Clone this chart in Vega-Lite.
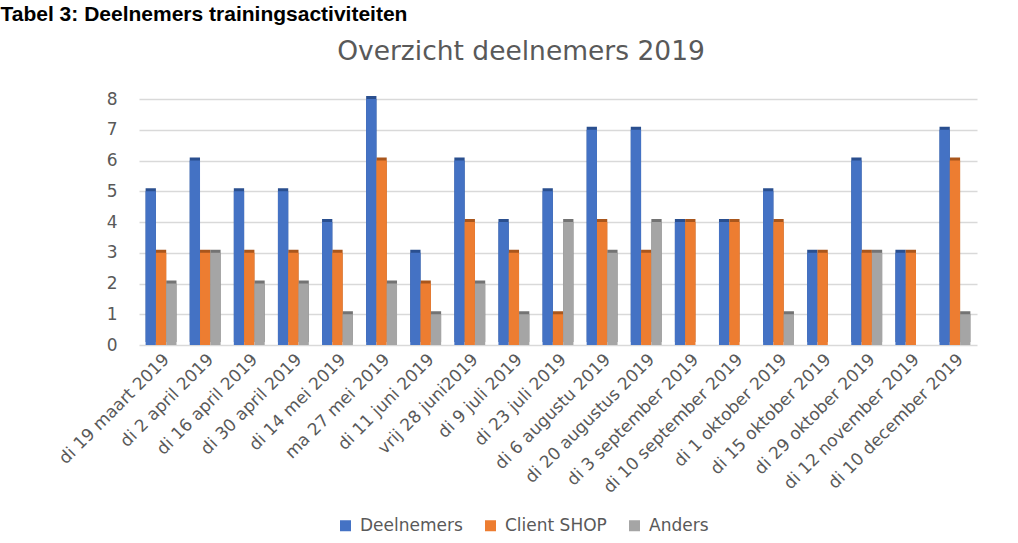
{
  "$schema": "https://vega.github.io/schema/vega-lite/v6.json",
  "width": 838,
  "height": 246,
  "autosize": {"type": "none"},
  "padding": {"left": 139, "top": 99, "right": 41, "bottom": 198},
  "background": "white",
  "title": {
    "text": "Overzicht deelnemers 2019",
    "fontSize": 26.5,
    "fontWeight": "normal",
    "font": "DejaVu Sans",
    "color": "#595959",
    "anchor": "middle",
    "offset": -62,
    "dx": -37
  },
  "data": {
    "values": [
      {"datum": "di 19 maart 2019", "serie": "Deelnemers", "aantal": 5},
      {"datum": "di 19 maart 2019", "serie": "Client SHOP", "aantal": 3},
      {"datum": "di 19 maart 2019", "serie": "Anders", "aantal": 2},
      {"datum": "di 2 april 2019", "serie": "Deelnemers", "aantal": 6},
      {"datum": "di 2 april 2019", "serie": "Client SHOP", "aantal": 3},
      {"datum": "di 2 april 2019", "serie": "Anders", "aantal": 3},
      {"datum": "di 16 april 2019", "serie": "Deelnemers", "aantal": 5},
      {"datum": "di 16 april 2019", "serie": "Client SHOP", "aantal": 3},
      {"datum": "di 16 april 2019", "serie": "Anders", "aantal": 2},
      {"datum": "di 30 april 2019", "serie": "Deelnemers", "aantal": 5},
      {"datum": "di 30 april 2019", "serie": "Client SHOP", "aantal": 3},
      {"datum": "di 30 april 2019", "serie": "Anders", "aantal": 2},
      {"datum": "di 14 mei 2019", "serie": "Deelnemers", "aantal": 4},
      {"datum": "di 14 mei 2019", "serie": "Client SHOP", "aantal": 3},
      {"datum": "di 14 mei 2019", "serie": "Anders", "aantal": 1},
      {"datum": "ma 27 mei 2019", "serie": "Deelnemers", "aantal": 8},
      {"datum": "ma 27 mei 2019", "serie": "Client SHOP", "aantal": 6},
      {"datum": "ma 27 mei 2019", "serie": "Anders", "aantal": 2},
      {"datum": "di 11 juni 2019", "serie": "Deelnemers", "aantal": 3},
      {"datum": "di 11 juni 2019", "serie": "Client SHOP", "aantal": 2},
      {"datum": "di 11 juni 2019", "serie": "Anders", "aantal": 1},
      {"datum": "vrij 28 juni2019", "serie": "Deelnemers", "aantal": 6},
      {"datum": "vrij 28 juni2019", "serie": "Client SHOP", "aantal": 4},
      {"datum": "vrij 28 juni2019", "serie": "Anders", "aantal": 2},
      {"datum": "di 9 juli 2019", "serie": "Deelnemers", "aantal": 4},
      {"datum": "di 9 juli 2019", "serie": "Client SHOP", "aantal": 3},
      {"datum": "di 9 juli 2019", "serie": "Anders", "aantal": 1},
      {"datum": "di 23 juli 2019", "serie": "Deelnemers", "aantal": 5},
      {"datum": "di 23 juli 2019", "serie": "Client SHOP", "aantal": 1},
      {"datum": "di 23 juli 2019", "serie": "Anders", "aantal": 4},
      {"datum": "di 6 augustu 2019", "serie": "Deelnemers", "aantal": 7},
      {"datum": "di 6 augustu 2019", "serie": "Client SHOP", "aantal": 4},
      {"datum": "di 6 augustu 2019", "serie": "Anders", "aantal": 3},
      {"datum": "di 20 augustus 2019", "serie": "Deelnemers", "aantal": 7},
      {"datum": "di 20 augustus 2019", "serie": "Client SHOP", "aantal": 3},
      {"datum": "di 20 augustus 2019", "serie": "Anders", "aantal": 4},
      {"datum": "di 3 september 2019", "serie": "Deelnemers", "aantal": 4},
      {"datum": "di 3 september 2019", "serie": "Client SHOP", "aantal": 4},
      {"datum": "di 3 september 2019", "serie": "Anders", "aantal": 0},
      {"datum": "di 10 september 2019", "serie": "Deelnemers", "aantal": 4},
      {"datum": "di 10 september 2019", "serie": "Client SHOP", "aantal": 4},
      {"datum": "di 10 september 2019", "serie": "Anders", "aantal": 0},
      {"datum": "di 1 oktober 2019", "serie": "Deelnemers", "aantal": 5},
      {"datum": "di 1 oktober 2019", "serie": "Client SHOP", "aantal": 4},
      {"datum": "di 1 oktober 2019", "serie": "Anders", "aantal": 1},
      {"datum": "di 15 oktober 2019", "serie": "Deelnemers", "aantal": 3},
      {"datum": "di 15 oktober 2019", "serie": "Client SHOP", "aantal": 3},
      {"datum": "di 15 oktober 2019", "serie": "Anders", "aantal": 0},
      {"datum": "di 29 oktober 2019", "serie": "Deelnemers", "aantal": 6},
      {"datum": "di 29 oktober 2019", "serie": "Client SHOP", "aantal": 3},
      {"datum": "di 29 oktober 2019", "serie": "Anders", "aantal": 3},
      {"datum": "di 12 november 2019", "serie": "Deelnemers", "aantal": 3},
      {"datum": "di 12 november 2019", "serie": "Client SHOP", "aantal": 3},
      {"datum": "di 12 november 2019", "serie": "Anders", "aantal": 0},
      {"datum": "di 10 december 2019", "serie": "Deelnemers", "aantal": 7},
      {"datum": "di 10 december 2019", "serie": "Client SHOP", "aantal": 6},
      {"datum": "di 10 december 2019", "serie": "Anders", "aantal": 1}
    ]
  },
  "encoding": {
    "x": {
      "field": "datum",
      "type": "nominal",
      "sort": null,
      "scale": {"paddingInner": 0.3, "paddingOuter": 0.15},
      "axis": {
        "title": null,
        "labelAngle": -45,
        "labelFontSize": 17,
        "labelFont": "DejaVu Sans",
        "labelColor": "#595959",
        "labelPadding": 6,
        "labelLimit": 0,
        "ticks": false,
        "domain": false
      }
    },
    "xOffset": {"field": "serie", "type": "nominal", "sort": ["Deelnemers", "Client SHOP", "Anders"]},
    "y": {
      "field": "aantal",
      "type": "quantitative",
      "scale": {"domain": [0, 8]},
      "axis": {
        "title": "Tabel 3: Deelnemers trainingsactiviteiten",
        "titleAngle": 0,
        "titleX": -139,
        "titleY": -79,
        "titleAlign": "left",
        "titleBaseline": "alphabetic",
        "titleFont": "Liberation Sans",
        "titleFontSize": 21,
        "titleFontWeight": "bold",
        "titleColor": "#000000",
        "values": [0, 1, 2, 3, 4, 5, 6, 7, 8],
        "labelFontSize": 17,
        "labelFont": "DejaVu Sans",
        "labelColor": "#595959",
        "labelPadding": 22,
        "ticks": false,
        "domain": false,
        "grid": true,
        "gridColor": "#d9d9d9",
        "gridWidth": 1.5
      }
    }
  },
  "layer": [
    {
      "mark": {"type": "bar", "xOffset": 3, "yOffset": -3},
      "encoding": {
        "color": {
          "field": "serie",
          "type": "nominal",
          "scale": {"domain": ["Deelnemers", "Client SHOP", "Anders"], "range": ["#2a4f8f", "#a9561c", "#737373"]},
          "legend": null
        }
      }
    },
    {
      "mark": {"type": "bar"},
      "encoding": {
        "color": {
          "field": "serie",
          "type": "nominal",
          "scale": {"domain": ["Deelnemers", "Client SHOP", "Anders"], "range": ["#4472C4", "#ED7D31", "#A5A5A5"]},
          "legend": {
            "title": null,
            "orient": "none",
            "direction": "horizontal",
            "legendX": 198,
            "legendY": 418,
            "symbolType": "square",
            "symbolSize": 121,
            "symbolStrokeWidth": 0,
            "labelOffset": 6,
            "labelFontSize": 17,
            "labelFont": "DejaVu Sans",
            "labelColor": "#595959",
            "columnPadding": 19
          }
        }
      }
    }
  ],
  "resolve": {"scale": {"color": "independent"}},
  "config": {"view": {"stroke": null}}
}
